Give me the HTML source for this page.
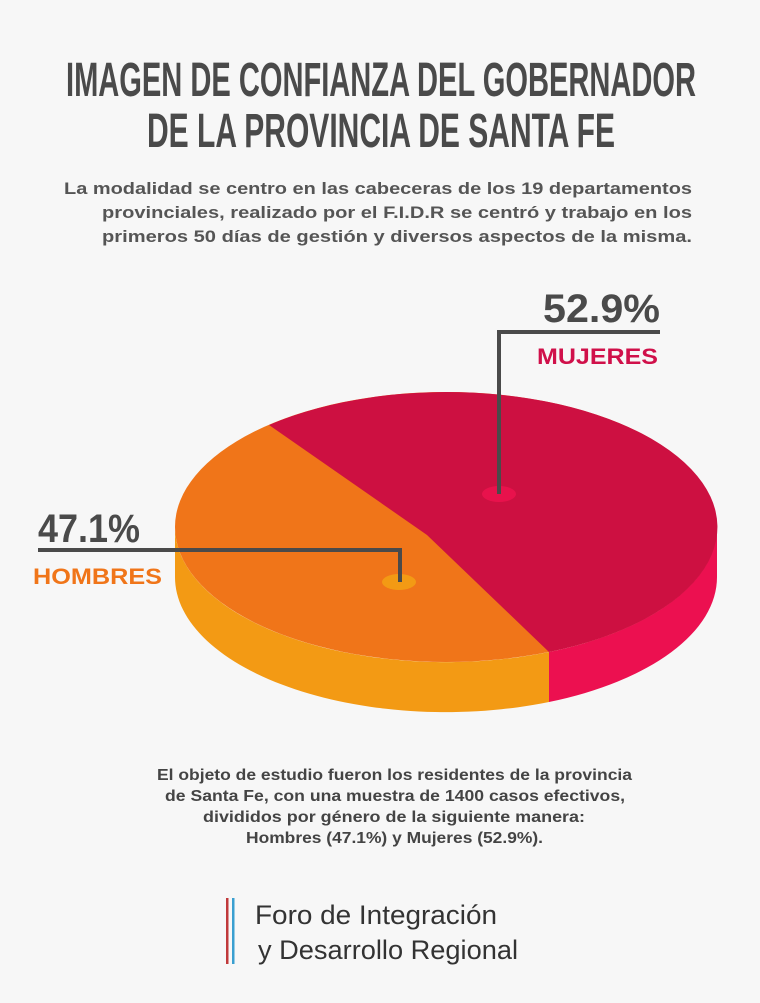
<!DOCTYPE html>
<html><head><meta charset="utf-8"><style>
html,body{margin:0;padding:0;background:#f7f7f7;}
svg{display:block;}
</style></head><body>
<svg width="760" height="1003" viewBox="0 0 760 1003" xmlns="http://www.w3.org/2000/svg">
<rect width="760" height="1003" fill="#f7f7f7"/>
<g font-family="'Liberation Sans Narrow','Liberation Sans',sans-serif" font-weight="bold" fill="#4a4a4a" font-size="48">
<text x="66" y="96" textLength="630" lengthAdjust="spacingAndGlyphs">IMAGEN DE CONFIANZA DEL GOBERNADOR</text>
<text x="147" y="147" textLength="468" lengthAdjust="spacingAndGlyphs">DE LA PROVINCIA DE SANTA FE</text>
</g>
<g font-family="'Liberation Sans',sans-serif" font-weight="bold" fill="#555" font-size="17" text-anchor="end">
<text x="692" y="194" textLength="628" lengthAdjust="spacingAndGlyphs">La modalidad se centro en las cabeceras de los 19 departamentos</text>
<text x="692" y="218" textLength="590" lengthAdjust="spacingAndGlyphs">provinciales, realizado por el F.I.D.R se centró y trabajo en los</text>
<text x="692" y="242" textLength="590" lengthAdjust="spacingAndGlyphs">primeros 50 días de gestión y diversos aspectos de la misma.</text>
</g>
<path d="M175,527 L175,577 A271,135 0 0,0 549,702 L549,652 A271,135 0 0,1 175,527 Z" fill="#f39a14"/>
<path d="M549,652 A271,135 0 0,0 717,527 L717,577 A271,135 0 0,1 549,702 Z" fill="#ec1050"/>
<ellipse cx="446" cy="527" rx="271" ry="135" fill="#f07519"/>
<path d="M427,535 L269,425 A271,135 0 1,1 549,652 Z" fill="#cd1041"/>
<ellipse cx="499" cy="494" rx="17" ry="8" fill="#e8124c"/>
<ellipse cx="399" cy="582" rx="17" ry="8" fill="#f39a14"/>
<polyline points="499,494 499,332 660,332" fill="none" stroke="#4a4a4a" stroke-width="4"/>
<polyline points="38,550 400,550 400,582" fill="none" stroke="#4a4a4a" stroke-width="4"/>
<g font-family="'Liberation Sans',sans-serif" font-weight="bold">
<text x="543" y="322" font-size="40" fill="#4a4a4a" textLength="117" lengthAdjust="spacingAndGlyphs">52.9%</text>
<text x="537" y="364" font-size="22" fill="#d0104a" textLength="121" lengthAdjust="spacingAndGlyphs">MUJERES</text>
<text x="38" y="542" font-size="40" fill="#4a4a4a" textLength="102" lengthAdjust="spacingAndGlyphs">47.1%</text>
<text x="33" y="584" font-size="22" fill="#f07519" textLength="129" lengthAdjust="spacingAndGlyphs">HOMBRES</text>
</g>
<g font-family="'Liberation Sans',sans-serif" font-weight="bold" fill="#444" font-size="16">
<text x="157" y="780" textLength="475" lengthAdjust="spacingAndGlyphs">El objeto de estudio fueron los residentes de la provincia</text>
<text x="165" y="801" textLength="460" lengthAdjust="spacingAndGlyphs">de Santa Fe, con una muestra de 1400 casos efectivos,</text>
<text x="203" y="822" textLength="382" lengthAdjust="spacingAndGlyphs">divididos por género de la siguiente manera:</text>
<text x="246" y="843" textLength="297" lengthAdjust="spacingAndGlyphs">Hombres (47.1%) y Mujeres (52.9%).</text>
</g>
<rect x="226" y="898" width="2.5" height="66" fill="#c0393b"/>
<rect x="232" y="898" width="2.5" height="66" fill="#3a9fd0"/>
<g font-family="'Liberation Sans',sans-serif" fill="#333" font-size="27">
<text x="255" y="924" textLength="242" lengthAdjust="spacingAndGlyphs">Foro de Integración</text>
<text x="258" y="959" textLength="260" lengthAdjust="spacingAndGlyphs">y Desarrollo Regional</text>
</g>
</svg>
</body></html>
